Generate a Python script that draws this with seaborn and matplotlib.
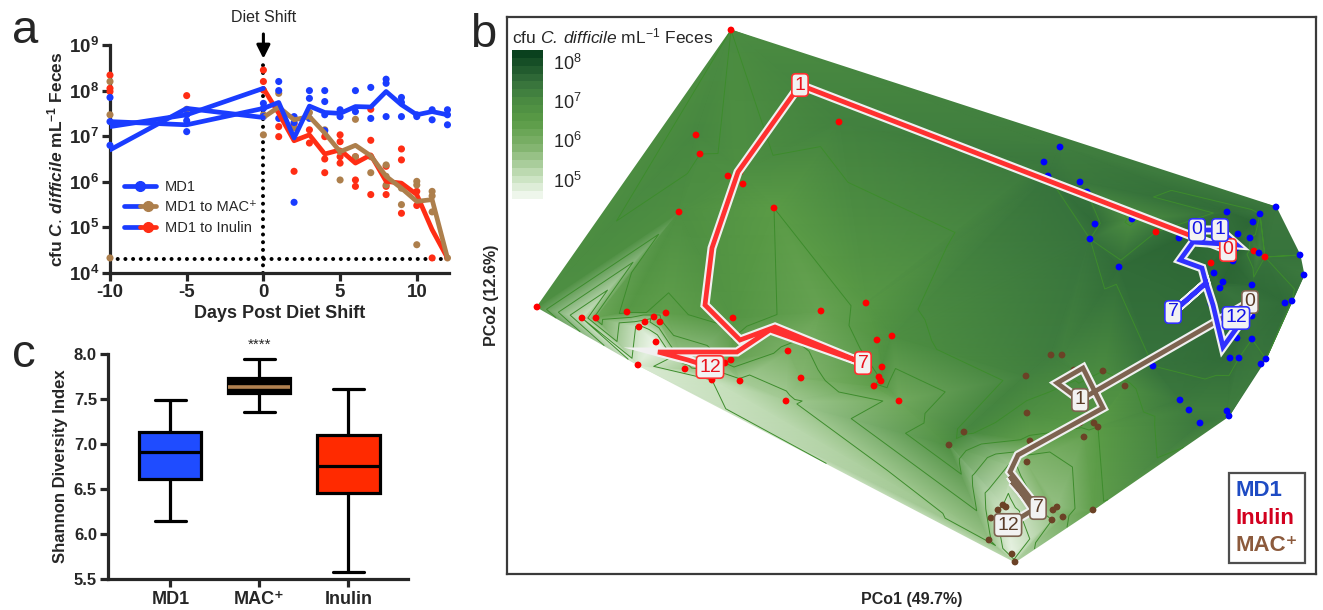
import numpy as np
import pandas as pd
import matplotlib
matplotlib.use("Agg")
import matplotlib.pyplot as plt
import matplotlib.patheffects as pe
import matplotlib.tri as mtri
from matplotlib.colors import LinearSegmentedColormap, Normalize
from matplotlib.cm import ScalarMappable
from matplotlib.lines import Line2D
from matplotlib.legend_handler import HandlerTuple
from matplotlib.ticker import FixedLocator, FuncFormatter, NullLocator
import seaborn as sns

# ---------------- panel a: C. difficile over time (log10 cfu/mL) ----------------
days = [-10, -5, 0, 1, 2, 3, 4, 5, 6, 7, 8, 9, 10, 11, 12]
md1_mean = [7.32, 7.25, 7.61, 7.74, 6.96, 7.66, 7.52, 7.50, 7.65, 7.64, 7.98, 7.69, 7.47, 7.54, 7.47]
mac_mean = [6.70, 7.61, 7.41, 7.64, 7.36, 7.43, 7.07, 6.66, 6.80, 6.57, 6.12, 5.86, 5.57, 5.61, 4.33]
inulin_mean = [7.21, 7.47, 8.05, 7.50, 6.90, 7.03, 6.61, 6.70, 6.41, 6.59, 6.01, 5.97, 5.72, 4.95, 4.33]

md1_dot_day = [-10, -10, -10, -5, -5, -5, 0, 0, 0, 1, 1, 1, 2, 2, 2, 3, 3, 3, 4, 4, 4, 4,
               5, 5, 6, 6, 7, 7, 8, 8, 8, 9, 9, 9, 10, 10, 11, 11, 12, 12, 12]
md1_dot_log = [7.85, 7.32, 6.80, 7.47, 7.34, 7.10, 7.72, 7.61, 7.43, 8.20, 8.00, 7.39,
               7.43, 7.30, 5.55, 8.00, 7.83, 7.39, 8.00, 7.76, 7.47, 7.12, 7.58, 7.43,
               8.00, 7.54, 8.07, 7.39, 8.25, 8.16, 7.43, 7.85, 7.74, 7.43, 7.47, 7.43,
               7.58, 7.36, 7.58, 7.47, 7.25]
mac_dot_day = [-10, -10, -10, -5, 0, 0, 1, 2, 3, 4, 5, 5, 6, 6, 7, 7, 8, 8, 8, 9, 9,
               10, 10, 10, 11, 11, 11, 12]
mac_dot_log = [8.20, 7.47, 4.33, 7.59, 7.47, 7.03, 7.94, 7.18, 7.52, 7.14, 6.04, 6.66,
               7.37, 6.55, 6.20, 6.55, 6.37, 6.12, 5.93, 5.50, 5.86, 6.01, 5.93, 4.62,
               5.79, 5.69, 5.34, 4.33]
inulin_dot_day = [-10, -10, -10, -5, 0, 0, 0, 1, 1, 2, 2, 3, 3, 4, 4, 4, 5, 5, 5, 5,
                  6, 6, 6, 7, 7, 7, 8, 8, 8, 9, 9, 9, 10, 10, 11]
inulin_dot_log = [8.34, 8.05, 7.98, 7.89, 8.45, 8.20, 8.01, 7.21, 6.99, 7.27, 6.23, 7.14,
                  6.85, 6.99, 6.50, 6.20, 7.03, 6.88, 6.55, 6.41, 6.55, 6.04, 5.90, 7.59,
                  6.91, 5.72, 6.34, 5.90, 5.72, 6.72, 6.48, 5.31, 5.79, 5.48, 4.33]
lod_cfu = 2e4
shift_day = 0

# ---------------- panel c: Shannon diversity (whisker low, Q1, median, Q3, whisker high) ----------------
box_diets = ["MD1", "MAC\u207a", "Inulin"]
md1_box = [6.14, 6.61, 6.91, 7.13, 7.49]
mac_box = [7.35, 7.57, 7.63, 7.73, 7.94]
inulin_box = [5.58, 6.46, 6.75, 7.10, 7.61]

# ---------------- panel b: PCoA scores (x1000) and log10 C. difficile per sample ----------------
inulin_pco1 = [-179, -214, -210, -182, -170, -167, -231, -136, -71, 246, 301, 344, 355,
               -373, -328, -314, -283, -256, -244, -265, -250, -271, -254, -272, -225, -198,
               -185, -179, -170, -177, -124, -89, -44, -33, -18, -122, -109, -28, -31, -29,
               -36, -11]
inulin_pco2 = [266, 161, 142, 120, 124, 112, 84, 88, 174, 64, 33, 45, 39,
               -11, -22, -22, -16, -21, -17, -26, -26, -31, -46, -69, -73, -84,
               -67, -64, -85, -22, -105, -15, -7, -44, -40, -55, -82, -71, -81, -85,
               -90, -105]
inulin_cfu = [7.0, 7.1, 7.0, 6.9, 6.9, 6.8, 6.9, 6.5, 7.2, 7.5, 7.6, 7.4, 7.5,
              6.9, 5.0, 6.2, 6.6, 5.6, 6.4, 5.3, 5.9, 4.9, 4.5, 4.8, 5.4, 5.0,
              6.0, 6.3, 5.4, 6.7, 5.4, 6.3, 6.6, 6.7, 6.9, 5.9, 5.8, 6.8, 6.5, 6.7,
              6.4, 6.1]
md1_pco1 = [134, 138, 150, 170, 177, 185, 180, 209, 222, 269, 317, 350, 366, 343, 328,
            340, 326, 349, 323, 304, 313, 310, 342, 390, 394, 382, 375, 301, 342, 327,
            342, 320, 329, 351, 356, 243, 270, 279, 290, 317, 319]
md1_pco2 = [134, 120, 149, 114, 104, 72, 57, 29, 77, 58, 84, 82, 89, 74, 62,
            58, 48, 43, 35, 23, 14, 8, 11, 41, 21, -5, -7, -8, -20, -42,
            -43, -62, -62, -68, -63, -70, -104, -114, -127, -115, -120]
md1_cfu = [7.4, 7.5, 7.3, 7.4, 7.5, 7.6, 7.5, 7.6, 6.9, 7.7, 7.6, 7.5, 7.4, 7.7, 7.6,
           7.5, 7.8, 7.2, 7.7, 7.6, 7.7, 7.5, 7.6, 7.5, 7.4, 7.5, 7.6, 7.6, 7.5, 7.6,
           7.5, 7.6, 7.5, 7.4, 7.5, 7.5, 7.4, 7.3, 7.4, 7.3, 7.3]
mac_pco1 = [141, 152, 164, 193, 215, 170, 184, 188, 174, 116, 117, 54, 39, 120, 103,
            117, 93, 96, 88, 81, 79, 102, 105, 143, 147, 142, 153, 183, 345]
mac_pco2 = [-59, -59, -74, -75, -90, -127, -127, -131, -141, -80, -117, -136, -149, -145, -170,
            -166, -209, -211, -214, -222, -244, -258, -266, -214, -211, -224, -221, -214, -7]
mac_cfu = [7.3, 7.2, 7.1, 7.0, 6.9, 6.6, 6.7, 6.5, 6.3, 7.2, 6.9, 7.1, 6.9, 6.4, 5.4,
           5.8, 5.0, 4.8, 5.0, 5.3, 5.6, 4.6, 5.2, 5.8, 5.6, 5.5, 5.9, 6.4, 7.5]

# daily centroids (day 0..12)
md1_traj_pco1 = [287, 310, 327, 283, 270, 292, 296, 263, 296, 303, 313, 334, 326]
md1_traj_pco2 = [66, 66, 51, 54, 36, 28, 13, -16, 13, -9, -51, -22, -22]
inulin_traj_pco1 = [318, -110, -172, -198, -205, -170, -135, -47, -140, -173, -252, -222, -200]
inulin_traj_pco2 = [46, 211, 124, 48, -9, -44, -31, -67, -34, -56, -56, -64, -71]
mac_traj_pco1 = [340, 170, 147, 173, 193, 108, 100, 128, 102, 120, 100, 123, 98]
mac_traj_pco2 = [-6, -104, -87, -72, -112, -159, -176, -212, -186, -207, -180, -214, -229]
traj_labelled_days = [0, 1, 7, 12]

# ---------------------------------------------------------------------------
sns.set_theme(style="ticks")
plt.rcParams["font.family"] = ["Liberation Sans", "DejaVu Sans"]
plt.rcParams["mathtext.fontset"] = "custom"
plt.rcParams["mathtext.rm"] = "Liberation Sans"
plt.rcParams["mathtext.bf"] = "Liberation Sans:bold"
plt.rcParams["mathtext.it"] = "Liberation Sans:italic:bold"
plt.rcParams["mathtext.sf"] = "Liberation Sans:italic"

W, H = 1323, 610
fig = plt.figure(figsize=(W / 100, H / 100), dpi=100)


def px_axes(left, top, right, bottom):
    return fig.add_axes([left / W, 1 - bottom / H, (right - left) / W, (bottom - top) / H])


A_BLUE, A_RED, A_BROWN = "#1a3cff", "#ff2d14", "#ad7f4c"
LW = 2.3
DOTTED = (0, (0.01, 1.9))

# ================= panel a =================
ax_a = px_axes(110, 45, 449, 273)
for d, lg, c in [(inulin_dot_day, inulin_dot_log, A_RED),
                 (mac_dot_day, mac_dot_log, A_BROWN),
                 (md1_dot_day, md1_dot_log, A_BLUE)]:
    sns.scatterplot(x=d, y=10 ** np.array(lg), color=c, s=26, edgecolor="none",
                    ax=ax_a, zorder=3, clip_on=False)

for mean, c in [(inulin_mean, A_RED), (mac_mean, A_BROWN), (md1_mean, A_BLUE)]:
    sns.lineplot(x=days[2:], y=10 ** np.array(mean[2:]), color=c, lw=3.4,
                 estimator=None, sort=False, ax=ax_a, zorder=4)
for mean in [inulin_mean, mac_mean, md1_mean]:
    sns.lineplot(x=days[:3], y=10 ** np.array(mean[:3]), color=A_BLUE, lw=3.4,
                 estimator=None, sort=False, ax=ax_a, zorder=4)

ax_a.axhline(lod_cfu, color="black", lw=2.9, ls=DOTTED, dash_capstyle="round", zorder=2)
ax_a.axvline(shift_day, ymin=0, ymax=0.93, color="black", lw=2.9, ls=DOTTED,
             dash_capstyle="round", zorder=2)
ax_a.annotate("Diet Shift", xy=(shift_day, 10 ** 8.70), xytext=(shift_day, 10 ** 9.6),
              ha="center", va="center", fontsize=11.5, annotation_clip=False,
              arrowprops=dict(arrowstyle="-|>", color="black", lw=2.2, mutation_scale=20,
                              shrinkA=4, shrinkB=0))

ax_a.set_yscale("log")
ax_a.set_ylim(1e4, 1e9)
ax_a.set_xlim(-10, 12.1)
ax_a.yaxis.set_major_locator(FixedLocator([1e4, 1e5, 1e6, 1e7, 1e8, 1e9]))
ax_a.yaxis.set_minor_locator(NullLocator())
ax_a.yaxis.set_major_formatter(FuncFormatter(lambda v, p: r"$\mathbf{10^{%d}}$" % round(np.log10(v))))
ax_a.set_xticks([-10, -5, 0, 5, 10])
ax_a.set_xticklabels(["-10", "-5", "0", "5", "10"], fontweight="bold")
ax_a.tick_params(labelsize=13.5, width=LW, length=6, pad=2)
sns.despine(ax=ax_a)
for s in ["left", "bottom"]:
    ax_a.spines[s].set_linewidth(LW)
ax_a.set_xlabel("Days Post Diet Shift", fontsize=13, fontweight="bold", labelpad=3)
ax_a.set_ylabel(r"cfu $\mathit{C.\,difficile}$ mL$^{\mathbf{-1}}$ Feces", fontsize=12.5,
                fontweight="bold", labelpad=2)

h_md1 = Line2D([], [], color=A_BLUE, lw=3.4, marker="o", ms=7)
h_mac = (Line2D([], [], color=A_BLUE, lw=3.4), Line2D([], [], color=A_BROWN, lw=3.4, marker="o", ms=7))
h_inu = (Line2D([], [], color=A_BLUE, lw=3.4), Line2D([], [], color=A_RED, lw=3.4, marker="o", ms=7))
ax_a.legend([h_md1, h_mac, h_inu], ["MD1", "MD1 to MAC\u207a", "MD1 to Inulin"],
            handler_map={tuple: HandlerTuple(ndivide=None, pad=0)},
            loc="upper left", bbox_to_anchor=(118 / W, 1 - 174 / H), bbox_transform=fig.transFigure,
            frameon=False, fontsize=10.5, handlelength=2.2, handletextpad=0.6, labelspacing=0.45,
            borderaxespad=0)

# ================= panel c =================
ax_c = px_axes(108, 354, 408, 579)
box_df = pd.DataFrame({
    "diet": np.repeat(box_diets, 5),
    "shannon": md1_box + mac_box + inulin_box,
})
sns.boxplot(data=box_df, x="diet", y="shannon", hue="diet", order=box_diets,
            palette=dict(zip(box_diets, ["#1f4cff", "black", "#ff2a00"])),
            saturation=1, legend=False, width=0.7, whis=(0, 100), linewidth=LW,
            linecolor="black", ax=ax_c)
for ln in ax_c.lines:
    yd = np.asarray(ln.get_ydata(), dtype=float)
    xd = np.asarray(ln.get_xdata(), dtype=float)
    if len(yd) == 2 and np.allclose(yd, mac_box[2]) and abs(xd.mean() - 1) < 0.2:
        ln.set_color("#b08050")
        ln.set_linewidth(2.6)
ax_c.set_ylim(5.5, 8.0)
ax_c.set_xlim(-0.7, 2.67)
ax_c.set_yticks([5.5, 6.0, 6.5, 7.0, 7.5, 8.0])
ax_c.set_yticklabels(["5.5", "6.0", "6.5", "7.0", "7.5", "8.0"], fontweight="bold")
ax_c.set_xticks([0, 1, 2])
ax_c.set_xticklabels(box_diets, fontweight="bold")
ax_c.tick_params(axis="y", labelsize=12, width=LW, length=6, pad=2)
ax_c.tick_params(axis="x", labelsize=13, width=LW, length=6, pad=3)
sns.despine(ax=ax_c)
for s in ["left", "bottom"]:
    ax_c.spines[s].set_linewidth(LW)
ax_c.set_xlabel("")
ax_c.set_ylabel("Shannon Diversity Index", fontsize=12, fontweight="bold", labelpad=4)
ax_c.text(1, 8.1, "****", ha="center", va="center", fontsize=11, clip_on=False)

# ================= panel b =================
ax_b = px_axes(507, 17, 1316, 574)
green_cmap = LinearSegmentedColormap.from_list(
    "cdiff_greens",
    [(0.0, "#ffffff"), (0.175, "#c8e1be"), (0.375, "#82b46e"), (0.55, "#5a9b46"),
     (0.675, "#4b8c41"), (0.8, "#37733c"), (1.0, "#0a411e")])
norm = Normalize(4.3, 8.3)

all_x = np.array(inulin_pco1 + md1_pco1 + mac_pco1) / 1000
all_y = np.array(inulin_pco2 + md1_pco2 + mac_pco2) / 1000
all_z = np.array(inulin_cfu + md1_cfu + mac_cfu)
tri = mtri.Triangulation(all_x, all_y)
ax_b.tripcolor(tri, all_z, shading="gouraud", cmap=green_cmap, norm=norm, zorder=1)
ax_b.tricontour(tri, all_z, levels=[5.0, 5.5, 6.0, 6.5, 7.0, 7.5], colors="#3d8c2c",
                linewidths=0.7, zorder=2)

for px, py, c in [(inulin_pco1, inulin_pco2, "#ff0000"),
                  (md1_pco1, md1_pco2, "#0000ff"),
                  (mac_pco1, mac_pco2, "#6b4226")]:
    sns.scatterplot(x=np.array(px) / 1000, y=np.array(py) / 1000, color=c, s=24,
                    edgecolor="none", ax=ax_b, zorder=3)

halo = [pe.Stroke(linewidth=6.5, foreground="#f0f0f0"), pe.Normal()]
for tx, ty, lc, tc in [(mac_traj_pco1, mac_traj_pco2, "#7d6350", "#5a3c28"),
                       (inulin_traj_pco1, inulin_traj_pco2, "#ff3030", "#e8141e"),
                       (md1_traj_pco1, md1_traj_pco2, "#3030ff", "#1414e6")]:
    tx = np.array(tx) / 1000
    ty = np.array(ty) / 1000
    ax_b.plot(tx, ty, color=lc, lw=3.4, path_effects=halo, zorder=5, solid_joinstyle="miter")
    for d in traj_labelled_days:
        ax_b.text(tx[d], ty[d], str(d), ha="center", va="center", fontsize=14, color=tc,
                  zorder=6, bbox=dict(boxstyle="round,pad=0.14,rounding_size=0.2",
                                      fc="#f2f2f2", ec=lc, lw=1.2))

ax_b.set_xlim(-0.403, 0.406)
ax_b.set_ylim(-0.278, 0.279)
ax_b.set_xticks([])
ax_b.set_yticks([])
for s in ax_b.spines.values():
    s.set_linewidth(1.6)
    s.set_color("#3a3a3a")
ax_b.set_xlabel("PCo1 (49.7%)", fontsize=11.5, fontweight="bold", labelpad=13)
ax_b.set_ylabel("PCo2 (12.6%)", fontsize=11.5, fontweight="bold", labelpad=6)

leg_b = ax_b.legend([Line2D([], [], alpha=0)] * 3, ["MD1", "Inulin", "MAC\u207a"],
                    loc="lower right", frameon=True, fancybox=False, handlelength=0,
                    handletextpad=0, fontsize=16, borderaxespad=0.5, borderpad=0.3,
                    labelspacing=0.3)
leg_b.get_frame().set_edgecolor("#222222")
leg_b.get_frame().set_linewidth(1.6)
for t, c in zip(leg_b.get_texts(), ["#1e4bc3", "#d2001e", "#8c5a3c"]):
    t.set_color(c)
    t.set_fontweight("bold")

cax = px_axes(512, 50, 543, 207)
cb = fig.colorbar(ScalarMappable(norm=norm, cmap=green_cmap.resampled(20)), cax=cax)
cb.outline.set_visible(False)
cb.set_ticks([5, 6, 7, 8])
cb.set_ticklabels([r"$10^{5}$", r"$10^{6}$", r"$10^{7}$", r"$10^{8}$"])
cax.tick_params(axis="y", which="major", direction="in", length=5, width=1, color="white",
                left=True, right=True, labelsize=13, pad=7)
cax.tick_params(axis="y", which="minor", length=0)
fig.text(512 / W, 1 - 36 / H, r"cfu $\mathsf{C.\,difficile}$ mL$^{-1}$ Feces",
         fontsize=12.5, va="center", ha="left")

# panel letters
fig.text(12 / W, 1 - 43 / H, "a", fontsize=34, va="baseline")
fig.text(470 / W, 1 - 47 / H, "b", fontsize=34, va="baseline")
fig.text(12 / W, 1 - 367 / H, "c", fontsize=34, va="baseline")

fig.savefig("out.png", dpi=100)
